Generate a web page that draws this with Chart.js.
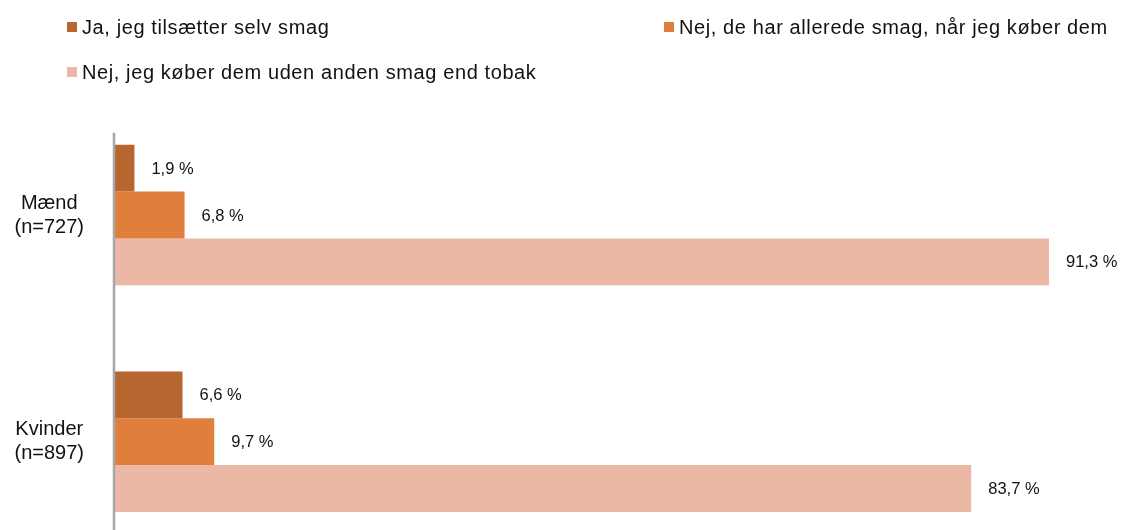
<!DOCTYPE html>
<html>
<head>
<meta charset="utf-8">
<script src="https://cdn.jsdelivr.net/npm/chart.js@4"></script>
<style>
  html, body { margin: 0; padding: 0; background: #fff; overflow: hidden; }
  #page { position: relative; width: 1125px; height: 530px; overflow: hidden; }
  #smagChart { position: absolute; left: 0; top: 0; }
  .legend-item {
    position: absolute; display: flex; align-items: center; height: 20px;
    font-family: "Liberation Sans", Arial, sans-serif; font-size: 20px; line-height: 20px;
    letter-spacing: 0.6px; color: #111; white-space: nowrap;
  }
  .legend-item span.box { width: 10px; height: 10px; margin-right: 5px; display: inline-block; }
</style>
</head>
<body>
<div id="page">
  <!-- canvas is taller than the page: the source picture is cut off below the second group -->
  <canvas id="smagChart" width="1125" height="602"></canvas>
  <div id="legend"></div>
</div>
<script>
// data
const categories = [['Mænd', '(n=727)'], ['Kvinder', '(n=897)']];
const seriesNames = [
  'Ja, jeg tilsætter selv smag',
  'Nej, de har allerede smag, når jeg køber dem',
  'Nej, jeg køber dem uden anden smag end tobak'
];
const tilsaetterSelv = [1.9, 6.6];
const harAlleredeSmag = [6.8, 9.7];
const udenSmag = [91.3, 83.7];
const seriesColors = ['#b8662f', '#e07f3c', '#ebb8a6'];

// legend (two columns like the original)
const legendSpots = [
  { left: 67, top: 17 },
  { left: 664, top: 17 },
  { left: 67, top: 62 }
];
const legendEl = document.getElementById('legend');
seriesNames.forEach((name, i) => {
  const item = document.createElement('div');
  item.className = 'legend-item';
  item.style.left = legendSpots[i].left + 'px';
  item.style.top = legendSpots[i].top + 'px';
  item.innerHTML = '<span class="box" style="background:' + seriesColors[i] + '"></span>' + name;
  legendEl.appendChild(item);
});

// grey category axis line, starts a bit below the plot top like in the source
const axisLine = {
  id: 'axisLine',
  afterDatasetsDraw(chart) {
    const { ctx, chartArea } = chart;
    ctx.save();
    ctx.strokeStyle = '#a6a6a6';
    ctx.lineWidth = 2.5;
    ctx.beginPath();
    ctx.moveTo(chartArea.left - 1, chartArea.top + 31);
    ctx.lineTo(chartArea.left - 1, chartArea.bottom);
    ctx.stroke();
    ctx.restore();
  }
};

// value labels to the right of each bar
const barLabels = {
  id: 'barLabels',
  afterDatasetsDraw(chart) {
    const ctx = chart.ctx;
    ctx.save();
    ctx.font = '16.5px "Liberation Sans", Arial, sans-serif';
    ctx.fillStyle = '#111';
    ctx.textAlign = 'left';
    ctx.textBaseline = 'middle';
    chart.data.datasets.forEach((ds, i) => {
      chart.getDatasetMeta(i).data.forEach((bar, j) => {
        const txt = ds.data[j].toFixed(1).replace('.', ',') + ' %';
        ctx.fillText(txt, bar.x + 17, bar.y + 1);
      });
    });
    ctx.restore();
  }
};

const datasets = [tilsaetterSelv, harAlleredeSmag, udenSmag].map((vals, i) => ({
  label: seriesNames[i],
  data: vals,
  backgroundColor: seriesColors[i],
  borderWidth: 0,
  categoryPercentage: 0.62,
  barPercentage: 1.0
}));

new Chart(document.getElementById('smagChart'), {
  type: 'bar',
  data: { labels: categories, datasets: datasets },
  options: {
    indexAxis: 'y',
    responsive: false,
    animation: false,
    layout: { padding: { top: 101.7, bottom: 5, left: 0, right: 7.5 } },
    plugins: {
      legend: { display: false },
      tooltip: { enabled: false }
    },
    scales: {
      x: { display: false, min: 0, max: 98 },
      y: {
        border: { display: false },
        grid: { display: false },
        afterFit(scale) { scale.width = 115; },
        ticks: {
          crossAlign: 'center',
          padding: 23,
          color: '#111',
          font: { family: '"Liberation Sans", Arial, sans-serif', size: 20, lineHeight: 1.2 }
        }
      }
    }
  },
  plugins: [axisLine, barLabels]
});
</script>
</body>
</html>
